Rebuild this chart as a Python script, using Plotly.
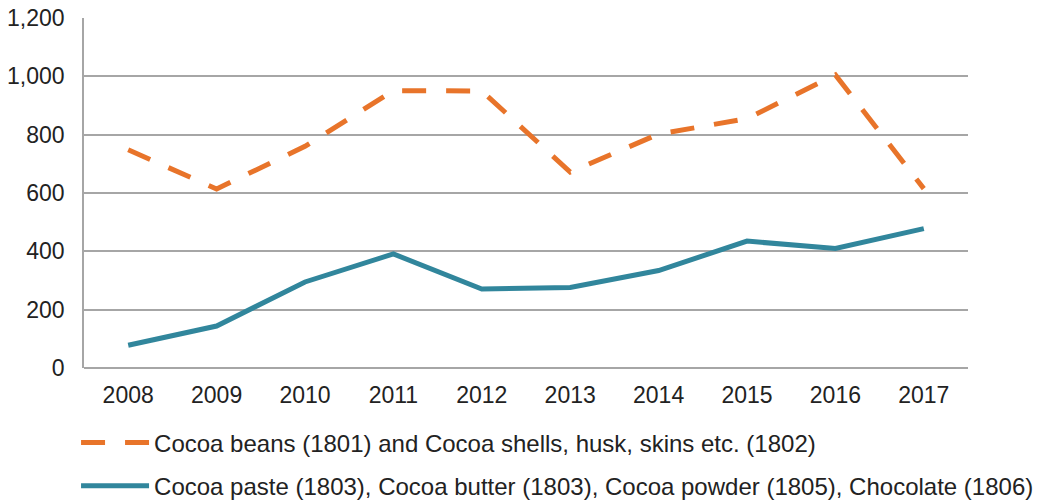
import plotly.graph_objects as go

years = ['2008', '2009', '2010', '2011', '2012', '2013', '2014', '2015', '2016', '2017']
beans_shells = [748, 614, 760, 951, 950, 672, 802, 855, 1005, 615]
paste_butter_choc = [78, 144, 295, 391, 271, 276, 334, 435, 410, 478]

beans_name = 'Cocoa beans (1801) and Cocoa shells, husk, skins etc. (1802)'
paste_name = 'Cocoa paste (1803), Cocoa butter (1803), Cocoa powder (1805), Chocolate (1806)'

fig = go.Figure()

fig.add_trace(go.Scatter(
    x=years, y=beans_shells,
    mode='lines',
    name=beans_name,
    legendgroup='beans',
    line=dict(color='#E8742A', width=5, dash='24px,20px')
))

fig.add_trace(go.Scatter(
    x=years, y=paste_butter_choc,
    mode='lines',
    name=paste_name,
    legendgroup='paste',
    line=dict(color='#31869C', width=5)
))

fig.update_layout(
    width=1040, height=503,
    margin=dict(l=84, r=72, t=18, b=135, autoexpand=False),
    plot_bgcolor='white',
    paper_bgcolor='white',
    font=dict(family='Liberation Sans, Arial, sans-serif', size=23, color='#222222'),
    legend=dict(
        orientation='v',
        traceorder='grouped',
        x=-0.009, xanchor='left',
        y=-0.150, yanchor='top',
        font=dict(size=24),
        itemwidth=68,
        tracegroupgap=9,
        bgcolor='rgba(0,0,0,0)'
    ),
    showlegend=True
)

fig.update_xaxes(
    type='category',
    range=[-0.5, 9.5],
    showgrid=False,
    showline=False,
    ticks='',
    ticklabelstandoff=11
)

fig.update_yaxes(
    range=[0, 1200],
    dtick=200,
    tickformat=',d',
    showgrid=True,
    gridcolor='#A6A6A6',
    gridwidth=1.5,
    zeroline=True,
    zerolinecolor='#A6A6A6',
    zerolinewidth=1.5,
    showline=True,
    linecolor='#A6A6A6',
    linewidth=1.5,
    ticks='',
    ticklabelstandoff=13,
    ticklabeloverflow='allow'
)

# drop the default body margin so the figure fills the window exactly
fig.write_html("out.html", config={'displayModeBar': False},
               post_script="document.body.style.margin = '0';")
